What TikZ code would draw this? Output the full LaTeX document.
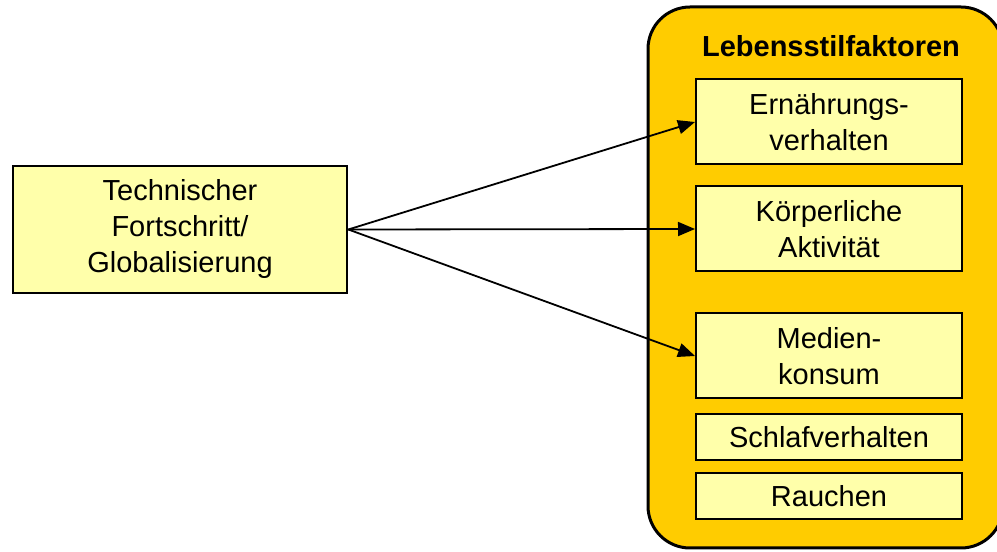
\documentclass[tikz,border=0pt]{standalone}
\usepackage{fontspec}
\setmainfont{Liberation Sans}
\usetikzlibrary{shapes,arrows.meta,positioning}

\definecolor{panelgold}{HTML}{FFCC00}
\definecolor{boxyellow}{HTML}{FFFFAA}

\begin{document}
\begin{tikzpicture}[
        x=1pt, y=1pt,
        font=\fontsize{29}{36}\selectfont,
        panel/.style={rectangle, draw, line width=3pt, rounded corners=42pt, fill=panelgold, minimum width=355pt, minimum height=541pt},
        factor/.style={rectangle, draw, line width=2pt, fill=boxyellow, text width=262pt, align=center, inner sep=2pt, minimum height=85pt},
        smallfactor/.style={factor, minimum height=46pt},
        source/.style={rectangle, draw, line width=2pt, fill=boxyellow, text width=328pt, align=center, minimum height=127pt},
        arrow/.style={line width=1.8pt, -{Triangle[length=17pt,width=14pt]}}
    ]
        \useasboundingbox (0,0) rectangle (997,552);

        % Lebensstil panel
        \node[panel] (panel) at (825.5,274.5) {};
        \node[font=\fontsize{29}{36}\selectfont\bfseries] (title) at (831,506) {Lebensstilfaktoren};

        % Factors
        \node[factor] (ern) at (829,430) {Ernährungs-\\verhalten};
        \node[factor, below=20pt of ern] (koerper) {Körperliche\\Aktivität};
        \node[factor, below=40pt of koerper] (medien) {Medien-\\konsum};
        \node[smallfactor, below=14pt of medien] (schlaf) {Schlafverhalten};
        \node[smallfactor, below=11pt of schlaf] (rauchen) {Rauchen};

        % Source
        \node[source] (technik) at (180,322.5) {Technischer\\Fortschritt/\\Globalisierung};

        % Connections
        \draw[arrow] (technik.east) -- (ern.west);
        \draw[arrow] (technik.east) -- (koerper.west);
        \draw[arrow] (technik.east) -- (medien.west);
    \end{tikzpicture}
\end{document}
